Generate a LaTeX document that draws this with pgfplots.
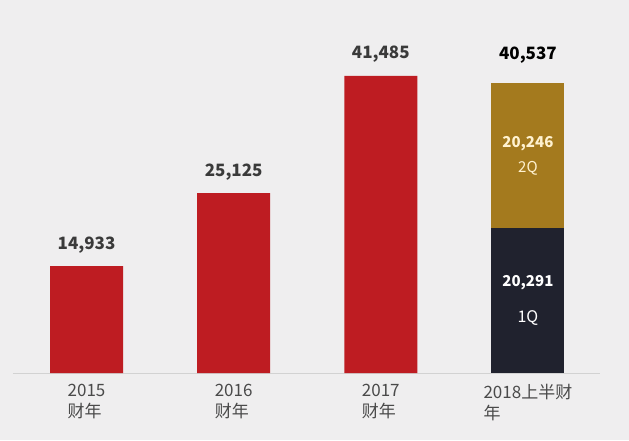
\documentclass[border=0pt]{standalone}
\usepackage{pgfplots}
\pgfplotsset{compat=1.18}
\usepackage{fontspec}
\setmainfont{Noto Sans CJK SC}
\definecolor{bg}{HTML}{EFEEEF}
\definecolor{cred}{HTML}{BE1C22}
\definecolor{cgold}{HTML}{A47A1E}
\definecolor{cnavy}{HTML}{20222E}
\definecolor{axisgray}{HTML}{D2D2D2}
\definecolor{labelgray}{HTML}{4A4A4A}
\definecolor{valgray}{HTML}{3A3A3A}
\definecolor{cream}{HTML}{FFF2D0}
\tikzset{vlab/.style={font=\fontsize{17}{20}\selectfont\bfseries, text=valgray}}
\begin{document}
\begin{tikzpicture}[x=1pt,y=1pt]
\fill[bg] (0,0) rectangle (629,440);
\begin{axis}[
  at={(13pt,67pt)}, anchor=south west,
  scale only axis, width=587pt, height=373pt,
  xmin=-0.5, xmax=3.49, ymin=0, ymax=52100,
  axis y line=none, axis x line*=bottom,
  axis line style={draw=axisgray, line width=0.8pt, -},
  xtick={0,1,2,3},
  xticklabels={{2015\\财年},{2016\\财年},{2017\\财年},{2018上半财\\年}},
  major tick length=0pt,
  xticklabel style={align=left, font=\fontsize{17}{21}\selectfont, text=labelgray, anchor=north, yshift=-8pt},
  ybar stacked, bar width=73pt,
  clip=false,
]
\addplot[fill=cred, draw=none] coordinates {(0,14933) (1,25125) (2,41485) (3,0)};
\addplot[fill=cnavy, draw=none] coordinates {(0,0) (1,0) (2,0) (3,20291)};
\addplot[fill=cgold, draw=none] coordinates {(0,0) (1,0) (2,0) (3,20246)};
\node[vlab, yshift=21pt] at (axis cs:0,14933) {14,933};
\node[vlab, yshift=21pt] at (axis cs:1,25125) {25,125};
\node[vlab, yshift=22pt] at (axis cs:2,41485) {41,485};
\node[vlab, yshift=28pt, text=black] at (axis cs:3,40537) {40,537};
\coordinate (b3) at (axis cs:3,0);
\end{axis}
\node[yshift=229pt, font=\fontsize{15}{18}\selectfont\bfseries, text=cream] at (b3) {20,246};
\node[yshift=205pt, font=\fontsize{15}{18}\selectfont, text=cream] at (b3) {2Q};
\node[yshift=90pt, font=\fontsize{15}{18}\selectfont\bfseries, text=white] at (b3) {20,291};
\node[yshift=55pt, font=\fontsize{16}{18}\selectfont, text=white] at (b3) {1Q};
\pgfresetboundingbox
\useasboundingbox (0,0) rectangle (629,440);
\end{tikzpicture}
\end{document}
